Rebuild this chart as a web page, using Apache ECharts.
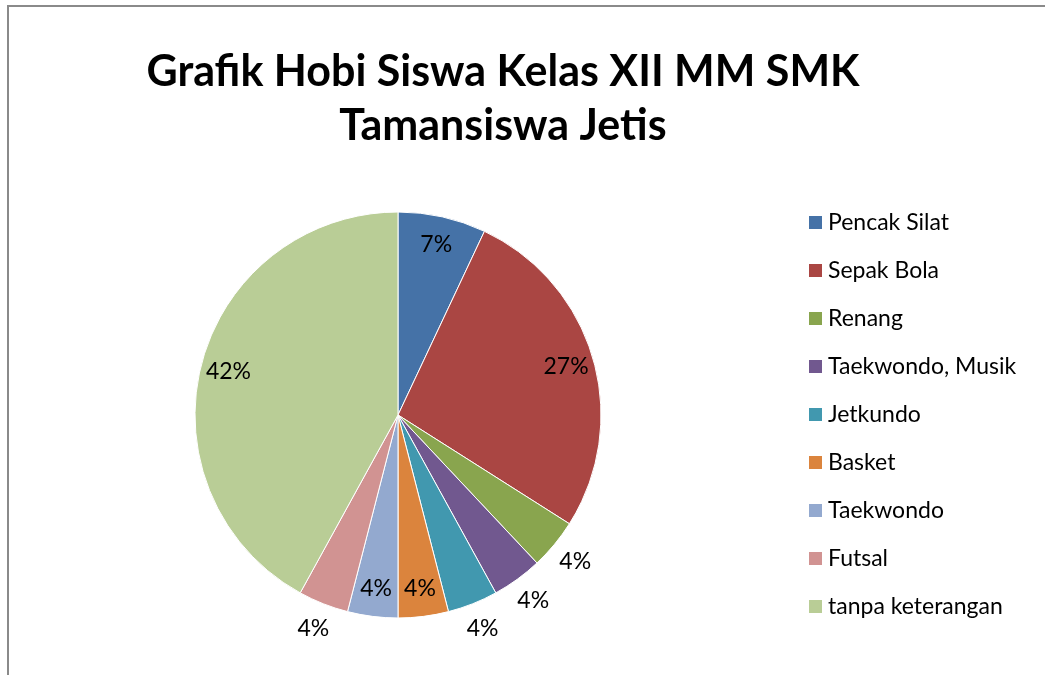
<!DOCTYPE html>
<html>
<head>
<meta charset="utf-8">
<script src="https://cdn.jsdelivr.net/npm/echarts@6/dist/echarts.min.js"></script>
<style>
  html, body { margin: 0; padding: 0; background: #fff; }
  #chart { width: 1045px; height: 675px; }
</style>
</head>
<body>
<div id="chart"></div>
<script>
// data
const hobi = ['Pencak Silat', 'Sepak Bola', 'Renang', 'Taekwondo, Musik', 'Jetkundo',
  'Basket', 'Taekwondo', 'Futsal', 'tanpa keterangan'];
const persen = [7, 27, 4, 4, 4, 4, 4, 4, 42];
const warna = ['#4572A7', '#AA4643', '#89A54E', '#71588F', '#4198AF',
  '#DB843D', '#93A9CF', '#D19392', '#B9CD96'];

// label di dalam irisan (best fit ala Excel)
const labelDalam = ['Pencak Silat', 'Sepak Bola', 'Basket', 'Taekwondo', 'tanpa keterangan'];

const font = 'Lato, "Noto Sans", sans-serif';
const pusat = [398, 415];

const dataUtama = hobi.map((n, i) => ({
  name: n, value: persen[i], itemStyle: { color: warna[i] }
}));

// seri transparan hanya untuk menaruh label
const seriLabel = (radius, tampil) => ({
  type: 'pie',
  center: pusat,
  radius: radius,
  startAngle: 90,
  silent: true,
  legendHoverLink: false,
  itemStyle: { color: 'rgba(0,0,0,0)', borderWidth: 0 },
  emphasis: { disabled: true },
  label: {
    position: 'inside',
    formatter: '{c}%',
    color: '#000',
    fontSize: 23,
    fontFamily: font
  },
  labelLine: { show: false },
  data: hobi.map((n, i) => ({
    name: n, value: persen[i],
    label: { show: tampil(n) }
  }))
});

const chart = echarts.init(document.getElementById('chart'));
chart.setOption({
  animation: false,
  title: {
    text: 'Grafik Hobi Siswa Kelas XII MM SMK\nTamansiswa Jetis',
    left: 498,
    textAlign: 'center',
    top: 40,
    textStyle: {
      fontFamily: font,
      fontWeight: 'bold',
      fontSize: 43,
      lineHeight: 54,
      color: '#000'
    }
  },
  graphic: [{
    type: 'rect',
    shape: { x: 8, y: 6, width: 1200, height: 800 },
    style: { fill: 'none', stroke: '#8a8a8a', lineWidth: 2 },
    silent: true
  }],
  legend: {
    orient: 'vertical',
    left: 802,
    top: 206,
    itemWidth: 15,
    itemHeight: 15,
    itemGap: 25,
    icon: 'rect',
    data: hobi,
    selectedMode: false,
    textStyle: { fontFamily: font, fontSize: 23, color: '#000' }
  },
  series: [
    {
      type: 'pie',
      center: pusat,
      radius: 203,
      startAngle: 90,
      itemStyle: { borderColor: '#fff', borderWidth: 1 },
      label: { show: false },
      labelLine: { show: false },
      emphasis: { disabled: true },
      data: dataUtama
    },
    seriLabel([140, 204], n => labelDalam.includes(n)),
    seriLabel([204, 250], n => !labelDalam.includes(n))
  ]
});
</script>
</body>
</html>
